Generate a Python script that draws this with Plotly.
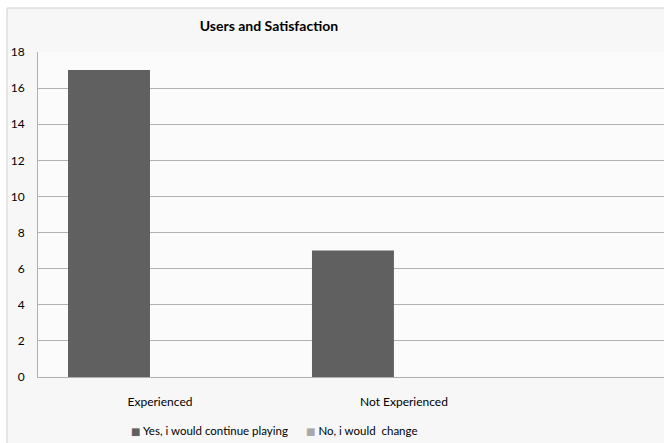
import plotly.graph_objects as go

categories = ["Experienced", "Not Experienced"]
yes_values = [17, 7]
no_values = [0, 0]
series_names = ["Yes, i would continue playing", "No, i would  change"]
series_colors = ["#606060", "#a9a9a9"]
title = "Users and Satisfaction"

xpos = list(range(len(categories)))
fig = go.Figure()
fig.add_trace(go.Bar(x=xpos, y=yes_values, name=series_names[0], marker_color=series_colors[0],
                     width=0.336, offset=-0.377, marker_line_width=0, showlegend=False))
fig.add_trace(go.Bar(x=xpos, y=no_values, name=series_names[1], marker_color=series_colors[1],
                     width=0.336, offset=-0.041, marker_line_width=0, showlegend=False))

font = "Lato, 'Open Sans', sans-serif"
PW = 626.0
def px(x):
    return (x - 38) / PW

annotations = []
for name, col, x0 in zip(series_names, series_colors, [129, 304]):
    annotations.append(dict(
        xref="paper", yref="paper", x=px(x0), xanchor="left", y=-53/325, yanchor="middle",
        text="<span style='color:%s;font-family:DejaVu Sans;font-size:10px'>■</span> %s" % (col, name.replace("  ", "&nbsp; ")),
        showarrow=False, font=dict(size=11.5, family=font, color="#000000")))

fig.update_layout(
    width=664, height=443,
    margin=dict(l=38, r=0, t=52, b=66),
    paper_bgcolor="white", plot_bgcolor="rgba(0,0,0,0)",
    font=dict(family=font, size=12, color="#000000"),
    title=dict(text="<b>" + title + "</b>", x=0.405, xanchor="center", y=0.94, yanchor="middle",
               font=dict(size=14, family=font)),
    barmode="overlay",
    showlegend=False,
    annotations=annotations,
    xaxis=dict(range=[-0.5, 2.066], tickmode="array", tickvals=xpos, ticktext=categories,
               showgrid=False, zeroline=False, showline=True, linecolor="#b0b0b0", linewidth=1,
               ticks="", ticklabelstandoff=14, tickfont=dict(size=12)),
    yaxis=dict(range=[0, 18], dtick=2, showgrid=True, gridcolor="#b0b0b0", gridwidth=1,
               zeroline=False, showline=True, linecolor="#b0b0b0", linewidth=1,
               ticks="", ticklabelstandoff=10, tickfont=dict(size=12)),
    shapes=[
        dict(type="rect", xref="paper", yref="paper", layer="below",
             x0=-31/PW, x1=1.05, y0=-0.3, y1=(325+44)/325,
             fillcolor="#f7f7f7", line=dict(color="#d0d0d0", width=1)),
        dict(type="rect", xref="paper", yref="paper", layer="below",
             x0=0, x1=1.05, y0=0, y1=1,
             fillcolor="#fbfbfb", line=dict(width=0)),
    ],
)
fig.write_html("out.html")
